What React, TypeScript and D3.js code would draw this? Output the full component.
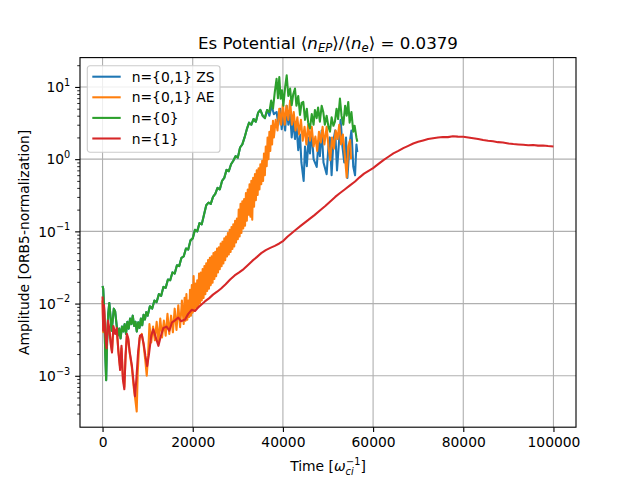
import { useEffect, useRef } from 'react';
import * as d3 from 'd3';

type Point = [number, number];

const X_TICKS = [0, 20000, 40000, 60000, 80000, 100000];
const Y_DECADES = [-3, -2, -1, 0, 1];
const Y_MINOR = [3e-4, 4e-4, 5e-4, 6e-4, 7e-4, 8e-4, 9e-4, 2e-3, 3e-3, 4e-3, 5e-3, 6e-3, 7e-3, 8e-3, 9e-3, 0.02, 0.03, 0.04, 0.05, 0.06, 0.07, 0.08, 0.09, 0.2, 0.3, 0.4, 0.5, 0.6, 0.7, 0.8, 0.9, 2, 3, 4, 5, 6, 7, 8, 9, 20];

// n={1}
const n1Series: Point[] = [
  [0, 0.0125], [150, 0.0042], [330, 0.0095], [600, 0.0038], [900, 0.0024], [1200, 0.0058], [1500, 0.0045],
  [1800, 0.0028], [2100, 0.0021], [2400, 0.0049], [2800, 0.0038], [3150, 0.0046], [3500, 0.0022], [3900, 0.0012],
  [4200, 0.0026], [4500, 0.0009], [4830, 0.00065], [5100, 0.0019], [5400, 0.0038], [5700, 0.0033], [6000, 0.0022],
  [6500, 0.0014], [6900, 0.0008], [7200, 0.00052], [7500, 0.0009], [7900, 0.0022], [8300, 0.0036], [8700, 0.0037],
  [9100, 0.0028], [9500, 0.0019], [9900, 0.00136], [10300, 0.002], [10800, 0.0036], [11260, 0.0044], [11800, 0.0034],
  [12400, 0.0026], [12900, 0.0035], [13500, 0.0046], [14200, 0.0048], [14800, 0.0042], [15400, 0.0055], [16000, 0.0058],
  [16800, 0.0064], [17400, 0.0057], [18300, 0.006], [19000, 0.0072], [19800, 0.0082], [20500, 0.0079], [21200, 0.0088],
  [22000, 0.0098], [22700, 0.0107], [23600, 0.0118], [24500, 0.0133], [25400, 0.0146], [26300, 0.0162], [27300, 0.0185],
  [28300, 0.0215], [29300, 0.0245], [30300, 0.027], [31300, 0.03], [32200, 0.034], [33200, 0.039], [34200, 0.044],
  [35200, 0.05], [36200, 0.055], [37200, 0.059], [38200, 0.063], [39200, 0.068], [40100, 0.074], [41000, 0.084],
  [42000, 0.095], [43000, 0.107], [44000, 0.12], [45000, 0.134], [46000, 0.15], [47000, 0.168], [48200, 0.195],
  [49400, 0.225], [50500, 0.26], [51600, 0.3], [52600, 0.337], [53700, 0.38], [54800, 0.43], [56000, 0.49],
  [57000, 0.56], [58000, 0.63], [59000, 0.69], [60000, 0.75], [61200, 0.86], [62300, 0.97], [63400, 1.08],
  [64500, 1.2], [65600, 1.3], [66700, 1.42], [67800, 1.53], [68900, 1.65], [70000, 1.74], [71100, 1.82],
  [72200, 1.9], [73300, 1.95], [74400, 1.99], [75500, 2.03], [76600, 2.02], [77700, 2.08], [78800, 2.05],
  [80000, 2.04], [81100, 2.0], [82200, 1.95], [83300, 1.9], [84400, 1.84], [85500, 1.8], [86600, 1.77],
  [87700, 1.72], [88800, 1.7], [90000, 1.65], [91100, 1.62], [92200, 1.6], [93300, 1.58], [94400, 1.56],
  [95500, 1.57], [96600, 1.54], [97700, 1.55], [98800, 1.52], [100000, 1.5],
];

// n={0}
const n0Early: Point[] = [
  [0, 0.0175], [150, 0.016], [300, 0.01], [450, 0.005], [600, 0.002], [800, 0.00087], [1000, 0.0028], [1250, 0.0072],
  [1500, 0.0102], [1750, 0.0068], [2000, 0.0042], [2250, 0.0058], [2500, 0.0085], [2800, 0.0078], [3100, 0.0052],
  [3400, 0.0036], [3700, 0.0045], [4000, 0.0033], [4300, 0.0048], [4600, 0.0041], [4900, 0.0052], [5200, 0.0038],
  [5500, 0.0056], [5800, 0.0045], [6100, 0.0062], [6400, 0.0052], [6700, 0.0068], [7000, 0.0049], [7300, 0.0056],
  [7600, 0.0041], [7900, 0.0055], [8200, 0.0046], [8500, 0.0062], [8800, 0.005], [9100, 0.007], [9400, 0.006],
  [9700, 0.0076], [10000, 0.0068],
];

const n0Rise: Point[] = [
  [10500, 0.0092], [11000, 0.0085], [11500, 0.011], [12000, 0.0105], [12500, 0.0135], [13000, 0.0128], [13500, 0.017],
  [14000, 0.0165], [14500, 0.0215], [15000, 0.021], [15500, 0.027], [16000, 0.026], [16500, 0.034], [17000, 0.033],
  [17500, 0.043], [18000, 0.045], [18500, 0.058], [19000, 0.056], [19500, 0.075], [20000, 0.08], [20500, 0.105],
  [21000, 0.1], [21500, 0.13], [22000, 0.125], [22500, 0.17], [23000, 0.23], [23500, 0.25], [24000, 0.24],
  [24500, 0.3], [25000, 0.33], [25500, 0.4], [26000, 0.38], [26500, 0.5], [27000, 0.55], [27500, 0.71],
  [28000, 0.68], [28500, 0.85], [29000, 0.95], [29500, 1.1], [30000, 1.05], [30500, 1.45], [31000, 1.6],
  [31500, 2.0], [32000, 2.6], [32500, 3.2], [33000, 3.0], [33500, 3.6], [34000, 3.3], [34500, 4.4],
  [35000, 4.8], [35500, 4.0], [36000, 3.7], [36500, 4.8],
];

const n0Late: Point[] = [
  [37000, 4.5], [37400, 6.5], [37800, 5.0], [38200, 8.5], [38600, 13.0], [38900, 7.0], [39200, 13.7], [39500, 6.9],
  [39800, 9.0], [40100, 5.5], [40500, 10.0], [40840, 14.5], [41200, 7.5], [41600, 9.5], [41950, 5.6], [42300, 8.0],
  [42680, 9.5], [43000, 5.5], [43400, 7.5], [43790, 4.1], [44150, 6.0], [44520, 6.2], [44900, 3.5], [45300, 5.0],
  [45600, 3.2], [46000, 2.66], [46400, 4.2], [46800, 3.0], [47100, 4.8], [47490, 3.7], [47800, 5.2], [48200, 3.3],
  [48600, 5.5], [48950, 4.5], [49300, 3.0], [49700, 4.0], [50100, 2.8], [50440, 2.4], [50800, 3.8], [51200, 2.9],
  [51540, 3.3], [51900, 5.0], [52250, 3.6], [52650, 6.9], [53000, 4.0], [53400, 3.0], [53800, 5.5], [54150, 4.0],
  [54490, 6.2], [54800, 3.2], [55200, 4.5], [55600, 2.4], [55900, 2.9], [56300, 2.0], [56500, 1.74],
];

// n={0,1} AE
const aeEarly: Point[] = [
  [0, 0.011], [150, 0.004], [330, 0.0085], [600, 0.0036], [900, 0.0026], [1200, 0.0055], [1500, 0.0043], [1800, 0.003],
  [2100, 0.0022], [2400, 0.0047], [2800, 0.004], [3150, 0.0044], [3500, 0.0023], [3900, 0.0013], [4200, 0.0024],
  [4500, 0.001], [4830, 0.0007], [5100, 0.0018], [5400, 0.0036], [5700, 0.0032], [6000, 0.0021], [6500, 0.0013],
  [6900, 0.0007], [7300, 0.00045], [7580, 0.00032], [7800, 0.0011], [8200, 0.0033], [8700, 0.0038], [9100, 0.0027],
  [9500, 0.0016], [9800, 0.001], [10100, 0.0019],
];

const aeRise: Point[] = [
  [10400, 0.0052], [10800, 0.0029], [11200, 0.0048], [11600, 0.0031], [12000, 0.0056], [12400, 0.003], [12800, 0.0062],
  [13200, 0.0034], [13600, 0.0058], [14000, 0.0036], [14400, 0.0072], [14800, 0.0038], [15200, 0.0068], [15600, 0.004],
  [16000, 0.0085], [16400, 0.0043], [16800, 0.0095], [17200, 0.0047], [17600, 0.011], [18000, 0.0052], [18200, 0.012],
  [18400, 0.0058], [18600, 0.0135], [18800, 0.006], [19000, 0.011], [19200, 0.0065], [19400, 0.0155], [19600, 0.0068],
  [19800, 0.018], [20000, 0.0075], [20200, 0.024], [20400, 0.008], [20600, 0.019], [20800, 0.0088], [21000, 0.021],
  [21200, 0.0092], [21400, 0.026], [21600, 0.01], [21800, 0.027], [22000, 0.011], [22200, 0.03], [22400, 0.012],
  [22600, 0.033], [22800, 0.0135], [23000, 0.036], [23200, 0.015], [23400, 0.04], [23600, 0.016], [23800, 0.043],
  [24000, 0.018], [24200, 0.045], [24400, 0.0195], [24600, 0.05], [24800, 0.022], [25000, 0.052], [25200, 0.024],
  [25400, 0.058], [25600, 0.027], [25800, 0.06], [26000, 0.03], [26200, 0.068], [26400, 0.033], [26600, 0.072],
  [26800, 0.036], [27000, 0.08], [27200, 0.04], [27400, 0.085], [27600, 0.045], [27800, 0.095], [28000, 0.048],
  [28200, 0.105], [28400, 0.052], [28600, 0.115], [28800, 0.057], [29000, 0.125], [29200, 0.062], [29400, 0.14],
  [29600, 0.07], [29800, 0.15], [30000, 0.078], [30200, 0.2], [30400, 0.085], [30600, 0.24], [30800, 0.095],
  [31000, 0.26], [31200, 0.11], [31400, 0.28], [31600, 0.12], [31800, 0.34], [32000, 0.14], [32200, 0.38],
  [32400, 0.17], [32600, 0.45], [32800, 0.16], [33000, 0.5], [33200, 0.145], [33400, 0.55], [33600, 0.22],
  [33800, 0.62], [34000, 0.27], [34200, 0.7], [34400, 0.32], [34600, 0.75], [34800, 0.38], [35000, 0.85],
  [35200, 0.45], [35400, 0.95], [35600, 0.5], [35800, 1.2], [36000, 0.6], [36200, 1.5], [36400, 0.8],
  [36600, 2.0], [36800, 1.0], [37000, 2.4], [37200, 1.3], [37400, 2.9], [37600, 1.6], [37800, 3.4],
];

const aeLate: Point[] = [
  [38000, 2.0], [38400, 3.5], [38800, 2.5], [39200, 5.0], [39600, 3.0], [40000, 5.9], [40400, 3.0], [40800, 5.5],
  [41200, 3.5], [41600, 6.5], [42000, 3.0], [42400, 4.5], [42800, 2.5], [43200, 3.8], [43600, 2.2], [44000, 3.5],
  [44400, 1.8], [44800, 2.8], [45200, 1.6], [45600, 3.0], [46000, 1.8], [46400, 2.8], [46800, 1.5], [47200, 2.05],
  [47600, 1.3], [48000, 2.4], [48400, 1.7], [48800, 2.8], [49200, 1.6], [49700, 2.8], [50100, 1.5], [50500, 0.97],
  [50900, 2.0], [51300, 1.4], [51700, 2.5], [52100, 1.9], [52500, 3.0], [52900, 1.6], [53300, 2.2], [53700, 1.2],
  [54140, 0.56], [54500, 1.5], [54900, 1.84], [55100, 1.0],
];

// n={0,1} ZS: hidden under n={0} until the saturation phase
const zsLate: Point[] = [
  [37000, 4.0], [37500, 5.5], [38000, 4.2], [38600, 4.5], [39000, 3.0], [39400, 5.0], [39730, 2.6], [40100, 4.0],
  [40500, 2.5], [40840, 5.5], [41200, 3.0], [41600, 4.2], [41950, 2.0], [42300, 3.5], [42680, 1.9], [43000, 3.0],
  [43400, 1.33], [43790, 2.2], [44100, 0.9], [44600, 0.5], [44900, 1.5], [45300, 0.8], [45700, 2.0], [46000, 1.2],
  [46400, 2.4], [46800, 1.0], [47500, 0.78], [47900, 1.8], [48200, 1.1], [48600, 2.5], [49000, 0.9], [49700, 0.62],
  [50100, 1.5], [50400, 2.0], [50800, 0.6], [51200, 1.8], [51600, 2.5], [52000, 0.7], [52400, 1.6], [52800, 3.5],
  [53200, 1.5], [53600, 0.9], [54000, 2.0], [54300, 0.55], [54800, 1.65], [55200, 2.5], [55600, 0.79], [56000, 0.6],
  [56300, 1.6], [56500, 1.25],
];

const zsSeries: Point[] = [...n0Early, ...n0Rise, ...zsLate];
const aeSeries: Point[] = [...aeEarly, ...aeRise, ...aeLate];
const n0Series: Point[] = [...n0Early, ...n0Rise, ...n0Late];

const SERIES = [
  { label: 'n={0,1} ZS', color: '#1f77b4', values: zsSeries },
  { label: 'n={0,1} AE', color: '#ff7f0e', values: aeSeries },
  { label: 'n={0}', color: '#2ca02c', values: n0Series },
  { label: 'n={1}', color: '#d62728', values: n1Series },
];

const FONT = '"DejaVu Sans", sans-serif';

export default function App() {
  const svgRef = useRef<SVGSVGElement | null>(null);

  useEffect(() => {
    const svgElement = svgRef.current;
    if (!svgElement) {
      return;
    }

    const svg = d3.select(svgElement);
    svg.selectAll('*').remove();

    const width = 640;
    const height = 480;
    const margin = { top: 57.6, right: 64, bottom: 52.8, left: 80 };
    const innerWidth = width - margin.left - margin.right;
    const innerHeight = height - margin.top - margin.bottom;
    const pt = 100 / 72;
    const fontSize = 10 * pt;

    svg.attr('viewBox', `0 0 ${width} ${height}`).attr('width', width).attr('height', height);
    svg.append('rect').attr('width', width).attr('height', height).attr('fill', '#ffffff');

    svg
      .append('defs')
      .append('clipPath')
      .attr('id', 'plot-clip')
      .append('rect')
      .attr('width', innerWidth)
      .attr('height', innerHeight);

    const x = d3.scaleLinear().domain([-5000, 105000]).range([0, innerWidth]);
    const y = d3.scaleLog().domain([1.94e-4, 25.5]).range([innerHeight, 0]);

    const root = svg.append('g').attr('transform', `translate(${margin.left},${margin.top})`);

    // grid
    root
      .append('g')
      .selectAll('line')
      .data(X_TICKS)
      .join('line')
      .attr('x1', (d) => x(d))
      .attr('x2', (d) => x(d))
      .attr('y1', 0)
      .attr('y2', innerHeight)
      .attr('stroke', '#b0b0b0')
      .attr('stroke-width', 0.8 * pt);
    root
      .append('g')
      .selectAll('line')
      .data(Y_DECADES)
      .join('line')
      .attr('x1', 0)
      .attr('x2', innerWidth)
      .attr('y1', (d) => y(10 ** d))
      .attr('y2', (d) => y(10 ** d))
      .attr('stroke', '#b0b0b0')
      .attr('stroke-width', 0.8 * pt);

    // series
    const line = d3
      .line<Point>()
      .x((d) => x(d[0]))
      .y((d) => y(d[1]));

    root
      .append('g')
      .attr('clip-path', 'url(#plot-clip)')
      .selectAll('path')
      .data(SERIES)
      .join('path')
      .attr('fill', 'none')
      .attr('stroke', (d) => d.color)
      .attr('stroke-width', 1.5 * pt)
      .attr('stroke-linejoin', 'round')
      .attr('d', (d) => line(d.values));

    // axes
    const xAxis = d3
      .axisBottom(x)
      .tickValues(X_TICKS)
      .tickSize(3.5 * pt)
      .tickPadding(3.5 * pt)
      .tickFormat((v: d3.NumberValue) => `${v}`);
    const xAxisGroup = root.append('g').attr('transform', `translate(0,${innerHeight})`).call(xAxis);
    xAxisGroup.select('.domain').remove();
    xAxisGroup.selectAll('line').attr('stroke', '#000').attr('stroke-width', 0.8 * pt);
    xAxisGroup.selectAll('text').attr('fill', '#000').attr('font-size', fontSize).attr('font-family', FONT);

    const yAxis = d3
      .axisLeft(y)
      .tickValues(Y_DECADES.map((d) => 10 ** d))
      .tickSize(3.5 * pt)
      .tickFormat(() => '');
    const yAxisGroup = root.append('g').call(yAxis);
    yAxisGroup.select('.domain').remove();
    yAxisGroup.selectAll('line').attr('stroke', '#000').attr('stroke-width', 0.8 * pt);

    const yMinor = d3.axisLeft(y).tickValues(Y_MINOR).tickSize(2 * pt).tickFormat(() => '');
    const yMinorGroup = root.append('g').call(yMinor);
    yMinorGroup.select('.domain').remove();
    yMinorGroup.selectAll('line').attr('stroke', '#000').attr('stroke-width', 0.6 * pt);

    const yLabels = root
      .append('g')
      .selectAll('text')
      .data(Y_DECADES)
      .join('text')
      .attr('x', -7 * pt)
      .attr('y', (d) => y(10 ** d) + 5.2)
      .attr('text-anchor', 'end')
      .attr('font-family', FONT)
      .attr('font-size', fontSize)
      .attr('fill', '#000');
    yLabels.append('tspan').text('10');
    yLabels
      .append('tspan')
      .attr('dy', -6.3)
      .attr('font-size', fontSize * 0.7)
      .text((d) => `${d}`.replace('-', '\u2212'));

    // frame
    root
      .append('rect')
      .attr('width', innerWidth)
      .attr('height', innerHeight)
      .attr('fill', 'none')
      .attr('stroke', '#000')
      .attr('stroke-width', 0.8 * pt);

    // legend
    const legend = root.append('g').attr('transform', 'translate(7.3,8.1)');
    legend
      .append('rect')
      .attr('width', 132.7)
      .attr('height', 86.6)
      .attr('rx', 2.8)
      .attr('fill', '#ffffff')
      .attr('fill-opacity', 0.8)
      .attr('stroke', '#cccccc')
      .attr('stroke-width', 0.8 * pt);
    const rows = legend
      .selectAll('g.legend-row')
      .data(SERIES)
      .join('g')
      .attr('class', 'legend-row')
      .attr('transform', (_, i) => `translate(0,${11 + i * 20.6})`);
    rows
      .append('line')
      .attr('x1', 5)
      .attr('x2', 33.4)
      .attr('stroke', (d) => d.color)
      .attr('stroke-width', 1.5 * pt);
    rows
      .append('text')
      .attr('x', 44.4)
      .attr('y', 5)
      .attr('font-family', FONT)
      .attr('font-size', fontSize)
      .attr('fill', '#000')
      .text((d) => d.label);

    // title
    const title = svg
      .append('text')
      .attr('x', margin.left + innerWidth / 2)
      .attr('y', 48.8)
      .attr('text-anchor', 'middle')
      .attr('font-family', FONT)
      .attr('font-size', 12 * pt)
      .attr('fill', '#000');
    title.append('tspan').text('Es Potential \u27e8');
    title.append('tspan').attr('font-style', 'italic').text('n');
    title.append('tspan').attr('font-style', 'italic').attr('font-size', 12 * pt * 0.7).attr('dy', 3.5).text('EP');
    title.append('tspan').attr('dy', -3.5).text('\u27e9/\u27e8');
    title.append('tspan').attr('font-style', 'italic').text('n');
    title.append('tspan').attr('font-style', 'italic').attr('font-size', 12 * pt * 0.7).attr('dy', 3.5).text('e');
    title.append('tspan').attr('dy', -3.5).text('\u27e9 = 0.0379');

    // x label
    const xLabel = svg
      .append('text')
      .attr('x', margin.left + innerWidth / 2)
      .attr('y', 471)
      .attr('text-anchor', 'middle')
      .attr('font-family', FONT)
      .attr('font-size', fontSize)
      .attr('fill', '#000');
    xLabel.append('tspan').text('Time [');
    xLabel.append('tspan').attr('font-style', 'italic').text('\u03c9');
    xLabel.append('tspan').attr('font-style', 'italic').attr('font-size', fontSize * 0.7).attr('dy', 3.5).text('ci');
    xLabel.append('tspan').attr('font-size', fontSize * 0.7).attr('dx', -7.5).attr('dy', -9.5).text('\u22121');
    xLabel.append('tspan').attr('dy', 6).text(']');

    // y label
    svg
      .append('text')
      .attr('transform', `translate(28.5,${margin.top + innerHeight / 2}) rotate(-90)`)
      .attr('text-anchor', 'middle')
      .attr('font-family', FONT)
      .attr('font-size', fontSize)
      .attr('fill', '#000')
      .text('Amplitude [ORB5-normalization]');
  }, []);

  return <svg ref={svgRef} style={{ position: 'absolute', left: 0, top: 0 }} aria-label="Es potential amplitude chart" />;
}
